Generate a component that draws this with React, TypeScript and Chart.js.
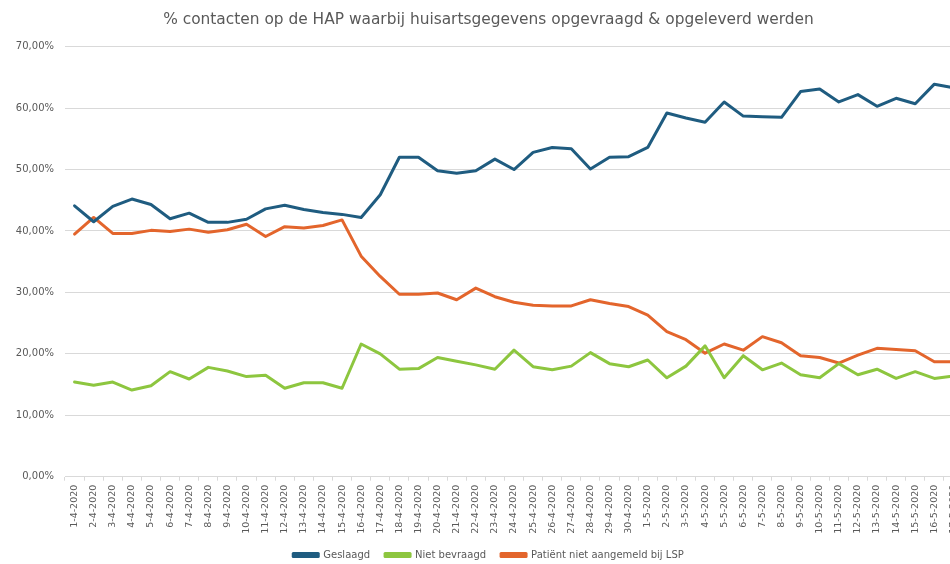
import React, { useEffect, useRef } from "react";
import { Chart, registerables } from "chart.js";

Chart.register(...registerables);

const categories = [
  "1-4-2020", "2-4-2020", "3-4-2020", "4-4-2020", "5-4-2020", "6-4-2020", "7-4-2020", "8-4-2020",
  "9-4-2020", "10-4-2020", "11-4-2020", "12-4-2020", "13-4-2020", "14-4-2020", "15-4-2020", "16-4-2020",
  "17-4-2020", "18-4-2020", "19-4-2020", "20-4-2020", "21-4-2020", "22-4-2020", "23-4-2020", "24-4-2020",
  "25-4-2020", "26-4-2020", "27-4-2020", "28-4-2020", "29-4-2020", "30-4-2020", "1-5-2020", "2-5-2020",
  "3-5-2020", "4-5-2020", "5-5-2020", "6-5-2020", "7-5-2020", "8-5-2020", "9-5-2020", "10-5-2020",
  "11-5-2020", "12-5-2020", "13-5-2020", "14-5-2020", "15-5-2020", "16-5-2020", "17-5-2020",
];

const geslaagd = [
  44.1, 41.5, 44.0, 45.2, 44.3, 42.0, 42.9, 41.4, 41.4, 41.9, 43.6, 44.2, 43.5, 43.0, 42.7,
  42.2, 45.9, 52.0, 52.0, 49.8, 49.4, 49.8, 51.7, 50.0, 52.8, 53.6, 53.4, 50.1, 52.0, 52.1,
  53.6, 59.2, 58.4, 57.7, 61.0, 58.7, 58.6, 58.5, 62.7, 63.1, 61.0, 62.2, 60.3, 61.6, 60.7, 63.9, 63.3,
];

const nietBevraagd = [
  15.4, 14.9, 15.4, 14.1, 14.8, 17.1, 15.9, 17.8, 17.2, 16.3, 16.5, 14.4, 15.3, 15.3, 14.4,
  21.6, 20.0, 17.5, 17.6, 19.4, 18.8, 18.2, 17.5, 20.6, 17.9, 17.4, 18.0, 20.2, 18.4, 17.9,
  19.0, 16.1, 18.0, 21.3, 16.1, 19.7, 17.4, 18.5, 16.6, 16.1, 18.4, 16.6, 17.5, 16.0, 17.1, 16.0, 16.4,
];

const nietAangemeld = [
  39.5, 42.2, 39.6, 39.6, 40.1, 39.9, 40.3, 39.8, 40.2, 41.1, 39.1, 40.7, 40.5, 40.9, 41.8,
  35.9, 32.6, 29.7, 29.7, 29.9, 28.8, 30.7, 29.3, 28.4, 27.9, 27.8, 27.8, 28.8, 28.2, 27.7,
  26.3, 23.6, 22.3, 20.1, 21.6, 20.6, 22.8, 21.8, 19.7, 19.4, 18.5, 19.8, 20.9, 20.7, 20.5, 18.7, 18.7,
];

const seriesNames = ["Geslaagd", "Niet bevraagd", "Patiënt niet aangemeld bij LSP"];
const seriesColors = ["#1F5C80", "#8DC63F", "#E3652C"];
const yTicks = { min: 0, max: 70, step: 10 };
const titleText = "% contacten op de HAP waarbij huisartsgegevens opgevraagd & opgeleverd werden";

const FONT = "'DejaVu Sans', Verdana, sans-serif";
const TEXT = "#595959";
const GRID = "#D9D9D9";

export default function App() {
  const ref = useRef<HTMLCanvasElement | null>(null);

  useEffect(() => {
    if (!ref.current) return;
    const values = [geslaagd, nietBevraagd, nietAangemeld];
    const chart = new Chart(ref.current, {
      type: "line",
      data: {
        labels: categories,
        datasets: values.map((v, i) => ({
          label: seriesNames[i],
          data: v,
          borderColor: seriesColors[i],
          backgroundColor: seriesColors[i],
          borderWidth: 3,
          pointRadius: 0,
          tension: 0,
          borderJoinStyle: "round" as const,
          borderCapStyle: "round" as const,
        })),
      },
      options: {
        responsive: false,
        animation: false,
        layout: { padding: { left: 14, right: 22, top: 0, bottom: 0 } },
        plugins: {
          title: {
            display: true,
            text: titleText,
            color: TEXT,
            font: { family: FONT, size: 15.4, weight: "normal" },
            padding: { top: 10.8, bottom: 17.4 },
          },
          legend: {
            position: "bottom",
            maxHeight: 29,
            labels: {
              color: TEXT,
              font: { family: FONT, size: 10 },
              boxWidth: 25,
              boxHeight: 3,
              padding: 15,
            },
          },
          tooltip: { enabled: false },
        },
        scales: {
          x: {
            type: "category",
            offset: true,
            grid: {
              display: true,
              drawOnChartArea: false,
              drawTicks: true,
              tickLength: 4,
              color: GRID,
              offset: true,
            },
            border: { display: true, color: GRID },
            ticks: {
              autoSkip: false,
              minRotation: 90,
              maxRotation: 90,
              padding: 4,
              color: TEXT,
              font: { family: FONT, size: 9.5 },
            },
            afterFit: (scale: any) => {
              scale.height = 58.3;
            },
          },
          y: {
            min: yTicks.min,
            max: yTicks.max,
            grid: { color: GRID, drawTicks: false },
            border: { display: false },
            ticks: {
              stepSize: yTicks.step,
              padding: 11,
              color: TEXT,
              font: { family: FONT, size: 10 },
              callback: (v: any) => Number(v).toFixed(2).replace(".", ",") + "%",
            },
            afterFit: (scale: any) => {
              scale.width = 51;
            },
          },
        },
      },
    });
    return () => chart.destroy();
  }, []);

  return (
    <div
      style={{
        position: "fixed",
        left: 0,
        top: 0,
        width: 950,
        height: 564,
        overflow: "hidden",
        background: "#ffffff",
      }}
    >
      <canvas ref={ref} width={985} height={564} style={{ display: "block" }} />
    </div>
  );
}
